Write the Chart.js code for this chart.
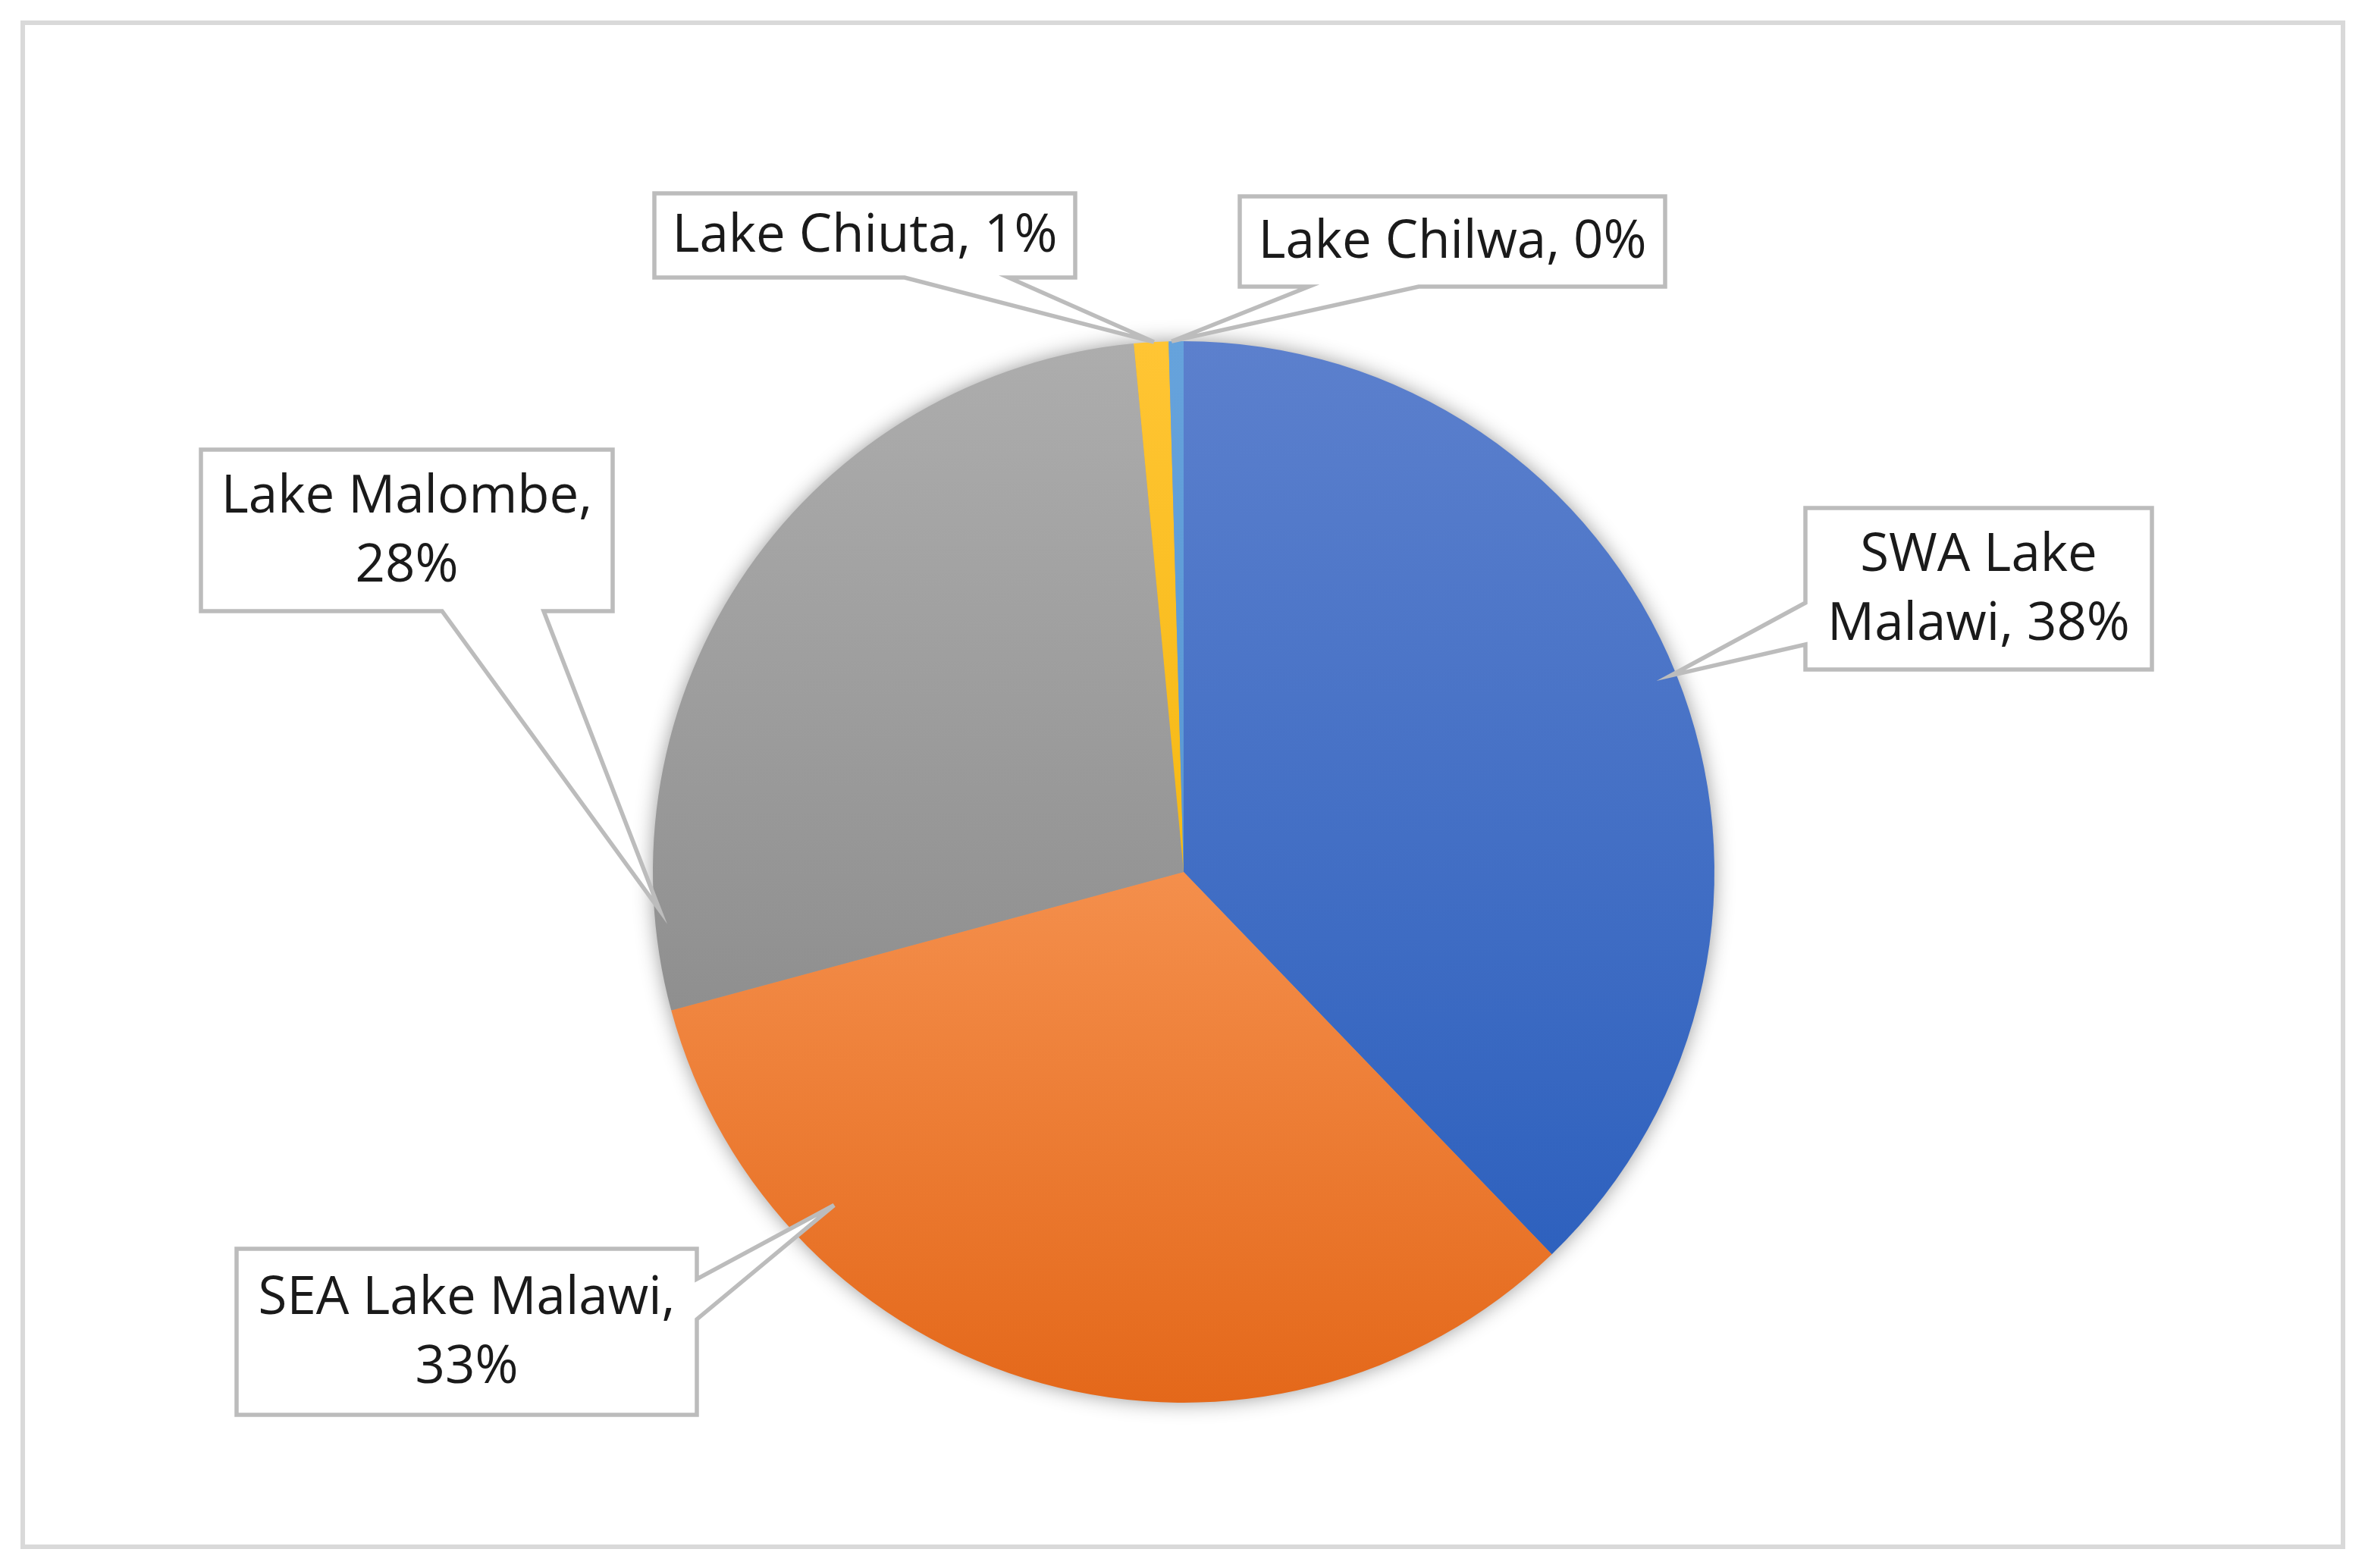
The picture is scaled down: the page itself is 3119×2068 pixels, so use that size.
<!DOCTYPE html>
<html>
<head>
<meta charset="utf-8">
<script src="https://cdn.jsdelivr.net/npm/chart.js@4.4.0/dist/chart.umd.min.js"></script>
<style>
  body { margin: 0; background: #fff; }
  #wrap { width: 3119px; height: 2068px; }
</style>
</head>
<body>
<div id="wrap"><canvas id="pie" width="3119" height="2068"></canvas></div>
<script>
// data (share of total, %)
const lakes = ['SWA Lake Malawi', 'SEA Lake Malawi', 'Lake Malombe', 'Lake Chiuta', 'Lake Chilwa'];
const shares = [37.8, 33.0, 27.7, 1.05, 0.45];

// fill colours, light top -> dark bottom like the office gradient
const topColors = ['#5c80cd', '#f48f4c', '#adadad', '#ffc534', '#66a3dc'];
const bottomColors = ['#2e61be', '#e4681a', '#8f8f8f', '#f6b913', '#5897d3'];

// callout boxes: box [x1,y1,x2,y2], side the pointer leaves from, pointer base,
// where the tip sits inside the slice (t along the arc, rf of radius), words on line 1
const callouts = [
  { box: [2381, 670, 2838, 883], side: 'left', base: [795, 850], t: 0.5, rf: 0.99, brk: 2 },
  { box: [312, 1647, 919, 1866], side: 'right', base: [1687, 1740], t: 0.76, rf: 0.91, brk: 3 },
  { box: [265, 593, 808, 806], side: 'bottom', base: [583, 717], t: 0.11, rf: 0.99, brk: 2 },
  { box: [863, 255, 1418, 366], side: 'bottom', base: [1193, 1330], t: 0.58, rf: 1.0, brk: 0 },
  { box: [1635, 259, 2196, 378], side: 'bottom', base: [1726, 1871], t: 0.2, rf: 1.0, brk: 0 }
];

const total = shares.reduce((a, b) => a + b, 0);

function sliceFill(ctx) {
  const chart = ctx.chart;
  const area = chart.chartArea;
  const i = ctx.dataIndex;
  if (!area || i === undefined) return topColors[i] || '#888';
  const cx = (area.left + area.right) / 2;
  const cy = (area.top + area.bottom) / 2;
  const r = Math.min(area.right - area.left, area.bottom - area.top) / 2;
  let before = 0;
  for (let k = 0; k < i; k++) before += shares[k];
  const a0 = -Math.PI / 2 + before / total * Math.PI * 2;
  const a1 = a0 + shares[i] / total * Math.PI * 2;
  let minY = cy, maxY = cy;
  for (let s = 0; s <= 60; s++) {
    const y = cy + r * Math.sin(a0 + (a1 - a0) * s / 60);
    minY = Math.min(minY, y);
    maxY = Math.max(maxY, y);
  }
  const g = chart.ctx.createLinearGradient(0, minY, 0, maxY);
  g.addColorStop(0, topColors[i]);
  g.addColorStop(1, bottomColors[i]);
  return g;
}

const frame = {
  id: 'frame',
  beforeDraw(chart) {
    const c = chart.ctx;
    c.save();
    c.fillStyle = '#fff';
    c.fillRect(0, 0, chart.width, chart.height);
    c.strokeStyle = '#d9d9d9';
    c.lineWidth = 6;
    c.strokeRect(30, 30, 3060, 2010);
    c.restore();
  },
  beforeDatasetsDraw(chart) {
    // soft shadow under the pie
    const arc = chart.getDatasetMeta(0).data[0];
    const c = chart.ctx;
    c.save();
    c.shadowColor = 'rgba(0,0,0,0.45)';
    c.shadowBlur = 28;
    c.fillStyle = '#999';
    c.beginPath();
    c.arc(arc.x, arc.y, arc.outerRadius - 2, 0, Math.PI * 2);
    c.fill();
    c.restore();
  }
};

const calloutPlugin = {
  id: 'callouts',
  afterDatasetsDraw(chart) {
    const c = chart.ctx;
    const arcs = chart.getDatasetMeta(0).data;
    c.save();
    c.lineJoin = 'miter';
    callouts.forEach((co, i) => {
      const arc = arcs[i];
      const ang = arc.startAngle + (arc.endAngle - arc.startAngle) * co.t;
      const tx = arc.x + arc.outerRadius * co.rf * Math.cos(ang);
      const ty = arc.y + arc.outerRadius * co.rf * Math.sin(ang);
      const [x1, y1, x2, y2] = co.box;
      c.beginPath();
      c.moveTo(x1, y1);
      c.lineTo(x2, y1);
      if (co.side === 'right') {
        c.lineTo(x2, co.base[0]);
        c.lineTo(tx, ty);
        c.lineTo(x2, co.base[1]);
      }
      c.lineTo(x2, y2);
      if (co.side === 'bottom') {
        c.lineTo(co.base[1], y2);
        c.lineTo(tx, ty);
        c.lineTo(co.base[0], y2);
      }
      c.lineTo(x1, y2);
      if (co.side === 'left') {
        c.lineTo(x1, co.base[1]);
        c.lineTo(tx, ty);
        c.lineTo(x1, co.base[0]);
      }
      c.closePath();
      c.fillStyle = '#fff';
      c.fill();
      c.strokeStyle = '#bcbcbc';
      c.lineWidth = 5.5;
      c.stroke();

      const text = lakes[i] + ', ' + Math.round(shares[i] / total * 100) + '%';
      const words = text.split(' ');
      const lines = co.brk ? [words.slice(0, co.brk).join(' '), words.slice(co.brk).join(' ')] : [text];
      c.fillStyle = '#1a1a1a';
      c.font = '69px "Open Sans", "Noto Sans", sans-serif';
      c.textAlign = 'center';
      c.textBaseline = 'middle';
      const lh = 91;
      const mx = (x1 + x2) / 2;
      const my = (y1 + y2) / 2 + 2;
      lines.forEach((ln, k) => {
        c.fillText(ln, mx, my + (k - (lines.length - 1) / 2) * lh);
      });
    });
    c.restore();
  }
};

new Chart(document.getElementById('pie'), {
  type: 'pie',
  data: {
    labels: lakes,
    datasets: [{
      data: shares,
      backgroundColor: sliceFill,
      borderWidth: 0
    }]
  },
  options: {
    responsive: false,
    animation: false,
    layout: { padding: { left: 861, right: 858, top: 450, bottom: 218 } },
    plugins: {
      legend: { display: false },
      tooltip: { enabled: false }
    }
  },
  plugins: [frame, calloutPlugin]
});
</script>
</body>
</html>
